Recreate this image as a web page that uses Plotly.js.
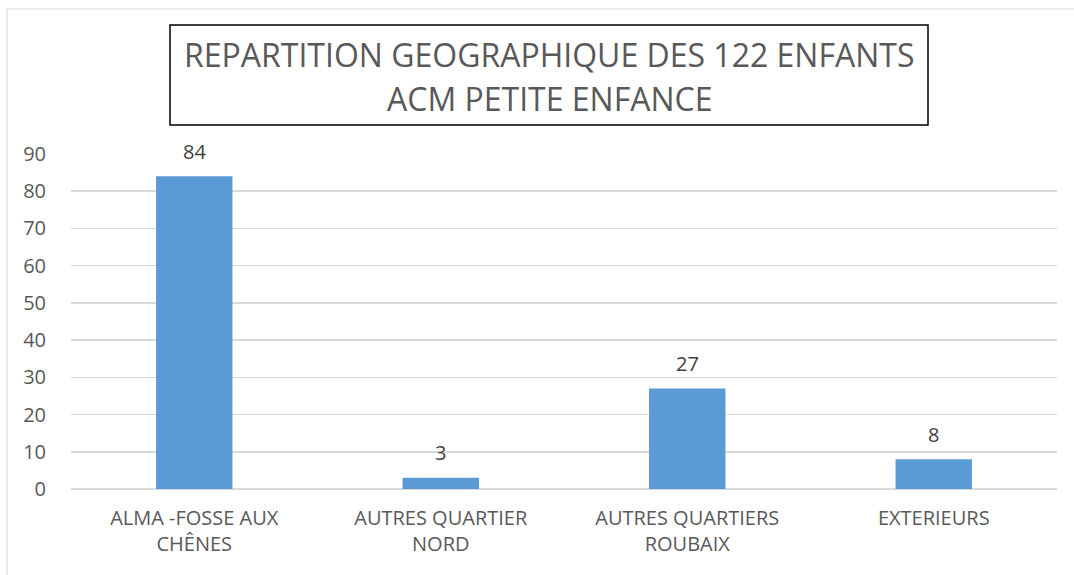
<!DOCTYPE html>
<html>
<head>
<meta charset="utf-8">
<script src="https://cdn.plot.ly/plotly-3.0.1.min.js"></script>
<style>
  html, body { margin: 0; padding: 0; background: #fff; }
  #chart { width: 1074px; height: 575px; }
</style>
</head>
<body>
<div id="chart"></div>
<script>
var categories = ["ALMA -FOSSE AUX<br>CHÊNES", "AUTRES QUARTIER<br>NORD", "AUTRES QUARTIERS<br>ROUBAIX", "EXTERIEURS"];
var enfants = [84, 3, 27, 8];
var titleLines = ["REPARTITION GEOGRAPHIQUE DES 122 ENFANTS", "ACM PETITE ENFANCE"];

var trace = {
    x: categories,
    y: enfants,
    type: "bar",
    marker: { color: "#5b9bd5" },
    hoverinfo: "none"
};

// value labels above the bars
var valueLabels = categories.map(function (c, i) {
    return {
        x: c, y: enfants[i], xref: "x", yref: "y",
        text: String(enfants[i]), showarrow: false,
        yanchor: "middle", yshift: 25,
        font: { size: 20, color: "#404040" }
    };
});

var titleX = (549 - 71) / 986;
var layout = {
    width: 1074,
    height: 575,
    margin: { l: 71, r: 17, t: 154, b: 86 },
    paper_bgcolor: "#fff",
    plot_bgcolor: "#fff",
    showlegend: false,
    bargap: 0.69,
    font: { family: "Open Sans", color: "#595959" },
    xaxis: {
        showgrid: false,
        showline: false,
        tickfont: { size: 20, color: "#595959" },
        ticks: "outside",
        ticklen: 11,
        tickcolor: "rgba(0,0,0,0)"
    },
    yaxis: {
        range: [0, 90],
        dtick: 10,
        showgrid: true,
        gridcolor: "#d9d9d9",
        gridwidth: 1.5,
        zeroline: true,
        zerolinecolor: "#d9d9d9",
        zerolinewidth: 1.5,
        tickfont: { size: 20, color: "#595959" },
        ticks: "outside",
        ticklen: 20,
        tickcolor: "rgba(0,0,0,0)"
    },
    shapes: [
        { type: "rect", xref: "paper", yref: "paper", x0: -0.0649, x1: 1.1, y0: -0.5, y1: 1.4328,
          line: { color: "#d9d9d9", width: 1 }, layer: "below" },
        { type: "rect", xref: "paper", yref: "paper", x0: (170 - 71) / 986, x1: (928 - 71) / 986,
          y0: (489 - 125) / 335, y1: (489 - 25) / 335, line: { color: "#000", width: 1.5 } }
    ],
    annotations: valueLabels.concat([
        { text: titleLines[0], xref: "paper", yref: "paper", x: titleX, y: (489 - 54) / 335,
          xanchor: "center", yanchor: "middle", showarrow: false, font: { size: 32, color: "#595959" } },
        { text: titleLines[1], xref: "paper", yref: "paper", x: titleX, y: (489 - 98) / 335,
          xanchor: "center", yanchor: "middle", showarrow: false, font: { size: 32, color: "#595959" } }
    ])
};

Plotly.newPlot("chart", [trace], layout, { displayModeBar: false, staticPlot: true });
</script>
</body>
</html>
